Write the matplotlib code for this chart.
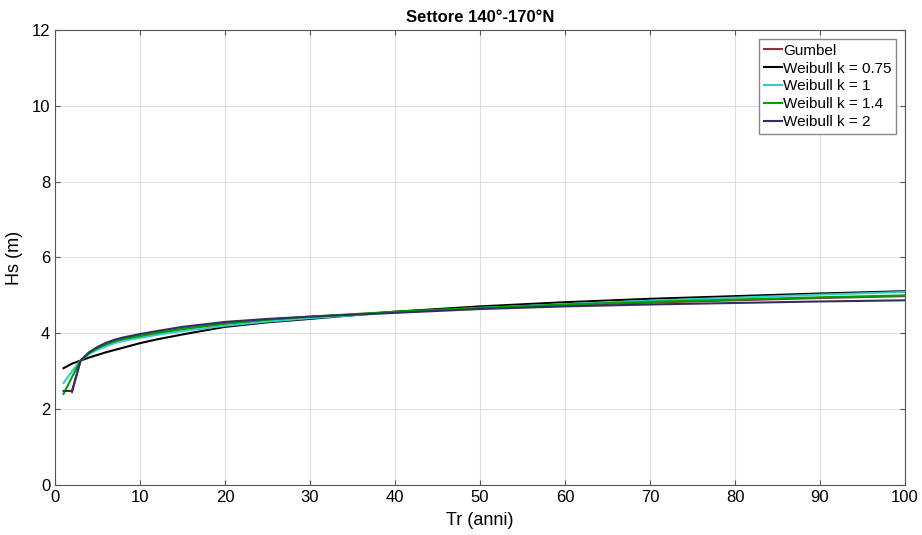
import numpy as np
import matplotlib
matplotlib.use('Agg')
import matplotlib.pyplot as plt

plt.rcParams['font.family'] = ['Liberation Sans', 'DejaVu Sans']

# return periods (years)
tr = [1, 2, 3, 4, 5, 6, 7, 8, 10, 12, 15, 20, 25, 30, 40, 50, 60, 70, 80, 90, 100]
tr_gumbel = tr[1:]

hs_gumbel = [2.45, 3.28, 3.47, 3.60, 3.70, 3.78, 3.85, 3.93, 4.01, 4.11, 4.25, 4.35, 4.43, 4.56, 4.66, 4.74, 4.81, 4.87, 4.93, 4.98]
hs_k075 = [3.08, 3.20, 3.28, 3.36, 3.43, 3.50, 3.56, 3.62, 3.74, 3.84, 3.97, 4.17, 4.29, 4.38, 4.57, 4.71, 4.82, 4.91, 4.98, 5.05, 5.11]
hs_k1 = [2.69, 3.00, 3.28, 3.45, 3.57, 3.66, 3.74, 3.80, 3.88, 3.96, 4.06, 4.20, 4.31, 4.40, 4.55, 4.67, 4.77, 4.86, 4.94, 5.02, 5.09]
hs_k14 = [2.40, 2.85, 3.28, 3.48, 3.61, 3.71, 3.79, 3.85, 3.93, 4.01, 4.12, 4.26, 4.36, 4.44, 4.57, 4.67, 4.76, 4.83, 4.89, 4.95, 5.00]
hs_k2 = [2.48, 2.48, 3.28, 3.50, 3.64, 3.75, 3.83, 3.89, 3.98, 4.06, 4.17, 4.30, 4.38, 4.44, 4.54, 4.64, 4.71, 4.76, 4.80, 4.84, 4.87]

fig = plt.figure(figsize=(9.22, 5.35), dpi=100)
ax = fig.add_axes([0.0597, 0.0935, 0.9219, 0.8505])

lw = 1.5
ax.plot(tr_gumbel, hs_gumbel, color='#8B3535', lw=lw, label='Gumbel')
ax.plot(tr, hs_k075, color='black', lw=lw, label='Weibull k = 0.75')
ax.plot(tr, hs_k1, color='#33CCCC', lw=lw, label='Weibull k = 1')
ax.plot(tr, hs_k14, color='#00A000', lw=lw, label='Weibull k = 1.4')
ax.plot(tr, hs_k2, color='#30305E', lw=lw, label='Weibull k = 2')

ax.set_xlim(0, 100)
ax.set_ylim(0, 12)
ax.set_xticks(np.arange(0, 101, 10))
ax.set_yticks(np.arange(0, 13, 2))
ax.grid(True, color='#DDDDDD', lw=0.8)
ax.set_axisbelow(True)
ax.tick_params(direction='in', top=True, right=True, labelsize=12, color='#555555')
for s in ax.spines.values():
    s.set_color('#555555')

ax.set_xlabel('Tr (anni)', fontsize=13, labelpad=5)
ax.set_ylabel('Hs (m)', fontsize=13, labelpad=6)
ax.set_title('Settore 140°-170°N', fontsize=12, fontweight='bold', pad=6)

leg = ax.legend(loc='upper right', fontsize=11, handlelength=1.2, handletextpad=0.05,
                borderpad=0.3, labelspacing=0.25, borderaxespad=0.6,
                fancybox=False, framealpha=1, edgecolor='#888888')

fig.savefig('out.png', dpi=100)
